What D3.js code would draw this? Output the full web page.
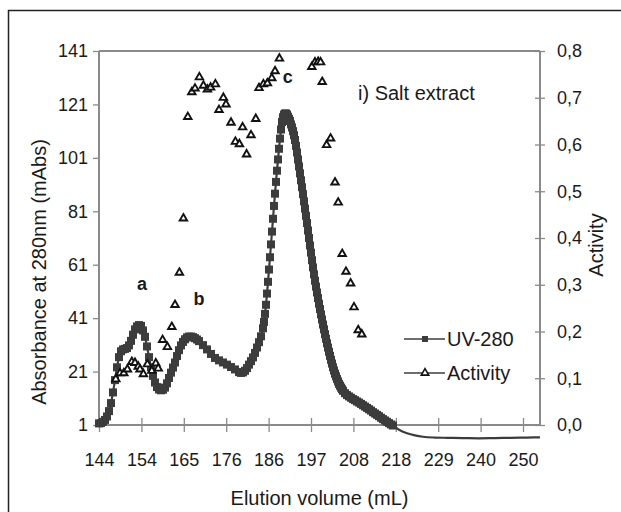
<!DOCTYPE html>
<html>
<head>
<meta charset="utf-8">
<script src="https://cdn.jsdelivr.net/npm/d3@7"></script>
<style>
  body { margin: 0; background: #fff; }
  text { font-family: "Liberation Sans", Arial, sans-serif; fill: #1a1a1a; }
</style>
</head>
<body>
<svg id="chart" width="621" height="512"></svg>
<script>
// UV-280 trace (elution volume in mL, absorbance in mAbs)
const uvVolume = [
  144, 144.5, 145, 145.5, 146, 146.5, 147, 147.5, 148, 148.5, 149, 149.5, 150, 150.5, 151, 151.5,
  152, 152.5, 153, 153.5, 154, 154.5, 155, 155.5, 156, 156.5, 157, 157.5, 158, 158.5, 159, 159.5,
  160, 160.5, 161, 161.5, 162, 162.5, 163, 163.5, 164, 164.5, 165, 165.5, 166, 166.5, 167, 167.5,
  168, 168.5, 169, 170, 171, 172, 173, 174, 175, 176, 177, 178, 179, 179.5, 180, 180.5,
  181, 181.5, 182, 182.5, 183, 183.5, 184, 184.5, 185, 185.25, 185.5, 185.75, 186, 186.25, 186.5, 186.75,
  187, 187.25, 187.5, 187.75, 188, 188.25, 188.5, 188.75, 189, 189.25, 189.5, 189.75, 190, 190.25, 190.5, 190.75,
  191, 191.25, 191.5, 191.75, 192, 192.25, 192.5, 192.75, 193, 193.25, 193.5, 193.75, 194, 194.25, 194.5, 194.75,
  195, 195.25, 195.5, 195.75, 196, 196.25, 196.5, 196.75, 197, 197.25, 197.5, 197.75, 198, 198.25, 198.5, 198.75,
  199, 199.25, 199.5, 199.75, 200, 200.25, 200.5, 200.75, 201, 201.25, 201.5, 201.75, 202, 202.25, 202.5, 202.75,
  203, 203.25, 203.5, 203.75, 204, 204.25, 204.5, 204.75, 205, 205.5, 206, 206.5, 207, 207.5, 208, 208.5,
  209, 209.5, 210, 210.5, 211, 211.5, 212, 212.5, 213, 213.5, 214, 214.5, 215, 215.5, 216, 216.5, 217, 217.5,
  219, 221, 223, 225, 228, 231, 235, 239, 243, 247, 251, 254.25
];
const uvAbs = [
  1.6, 1.7, 2.2, 2.9, 4.2, 6.2, 9.2, 13.2, 17.8, 22.6, 26.4, 28.6, 29.3, 29.5, 29.8, 30.8,
  32.5, 34.8, 36.8, 37.9, 38.4, 38.1, 36.4, 34.0, 30.4, 26.4, 22.6, 19.4, 16.9, 15.2, 14.3, 14.0,
  14.2, 15.0, 16.6, 18.6, 20.6, 22.5, 24.4, 26.8, 29.0, 30.8, 32.1, 33.1, 33.8, 34.1, 34.1, 33.9,
  33.5, 33.0, 32.4, 30.9, 29.3, 27.6, 26.1, 25.2, 24.4, 23.6, 22.7, 21.8, 20.8, 20.5, 20.7, 21.3,
  22.3, 23.6, 24.9, 26.3, 28.0, 30.0, 32.0, 34.2, 37.2, 39.6, 42.6, 46.0, 50.2, 54.6, 59.2, 63.8,
  68.6, 73.4, 78.2, 83.0, 87.6, 92.0, 96.2, 100.4, 104.4, 108.2, 111.6, 114.4, 116.2, 117.2, 117.6, 117.6,
  117.2, 116.4, 115.6, 114.8, 113.5, 112.4, 111.0, 109.5, 107.7, 105.5, 103.0, 100.4, 97.8, 95.2, 92.6, 90.0,
  87.4, 84.7, 82.0, 79.3, 76.6, 73.8, 71.0, 68.2, 65.5, 62.7, 60.0, 57.4, 55.0, 52.8, 50.6, 48.5,
  46.4, 44.4, 42.4, 40.5, 38.6, 36.8, 35.0, 33.3, 31.6, 30.0, 28.4, 26.9, 25.4, 24.0, 22.6, 21.4,
  20.2, 19.2, 18.2, 17.3, 16.4, 15.7, 15.0, 14.4, 13.8, 12.9, 12.2, 11.7, 11.2, 10.7, 10.3, 9.8,
  9.4, 8.9, 8.4, 7.9, 7.4, 6.9, 6.4, 5.8, 5.3, 4.8, 4.3, 3.7, 3.2, 2.7, 2.2, 1.7, 1.2, 0.8,
  -0.8, -2.1, -2.9, -3.4, -3.7, -3.8, -3.9, -4.0, -3.9, -3.8, -3.7, -3.6
];
// markers are plotted up to this volume, the rest of the trace is a plain line
const uvMarkerEnd = 218;

// Activity measurements (elution volume in mL, activity)
const actVolume = [
  148.2, 149.25, 150.2, 151.1, 152.2, 153.0, 153.8, 154.25, 155.1, 156.1, 157.2, 158.2, 158.8,
  159.9, 161.1, 162.2, 163.0, 164.1, 165.1, 166.2, 167.2, 168.0, 169.1, 170.1, 171.1, 171.9,
  173.1, 174.0, 175.1, 175.75, 177.0, 178.1, 179.1, 179.9, 180.9, 182.0, 183.2, 184.0, 185.1,
  186.1, 187.2, 188.0, 189.1, 197.2, 198.0, 198.8, 199.4, 199.8, 200.9, 201.9, 203.0, 203.8,
  204.8, 205.75, 206.9, 207.75, 208.8, 209.7
];
const actValue = [
  0.098, 0.111, 0.111, 0.119, 0.135, 0.133, 0.125, 0.119, 0.109, 0.130, 0.116, 0.132, 0.121,
  0.182, 0.167, 0.210, 0.257, 0.326, 0.442, 0.659, 0.712, 0.720, 0.744, 0.726, 0.718, 0.722,
  0.729, 0.674, 0.700, 0.686, 0.647, 0.606, 0.601, 0.637, 0.579, 0.620, 0.655, 0.721, 0.729,
  0.731, 0.742, 0.757, 0.784, 0.766, 0.776, 0.777, 0.776, 0.734, 0.599, 0.613, 0.519, 0.476,
  0.366, 0.328, 0.303, 0.252, 0.203, 0.194
];

// Axes
const xTickLabels = ["144", "154", "165", "176", "186", "197", "208", "218", "229", "240", "250"];
const xTickStep = 10.6;
const xDomain = [144, 254.25];
const yLeftTicks = [1, 21, 41, 61, 81, 101, 121, 141];
const yRightTicks = [0, 0.1, 0.2, 0.3, 0.4, 0.5, 0.6, 0.7, 0.8];

// Peak labels
const peakNames = ["a", "b", "c"];
const peakVolume = [154.75, 169.0, 191.2];
const peakAbs = [51.5, 46, 129];

const seriesNames = ["UV-280", "Activity"];

const svg = d3.select('#chart');
const plot = { left: 99, right: 540, top: 51, bottom: 425 };
const axisColor = '#8a8a8a';
const ink = '#3c3c3c';

// frame around the whole figure
svg.append('rect')
  .attr('x', 8.5).attr('y', 10.5)
  .attr('width', 700).attr('height', 600)
  .attr('fill', 'none')
  .attr('stroke', '#222')
  .attr('stroke-width', 1.5);

const x = d3.scaleLinear().domain(xDomain).range([plot.left, plot.right]);
const yL = d3.scaleLinear().domain([1, 141]).range([plot.bottom, plot.top]);
const yR = d3.scaleLinear().domain([0, 0.8]).range([plot.bottom, plot.top]);

// top border of plot area
svg.append('line')
  .attr('x1', plot.left).attr('x2', plot.right)
  .attr('y1', plot.top).attr('y2', plot.top)
  .attr('stroke', axisColor).attr('stroke-width', 2);

// left axis
const gLeft = svg.append('g')
  .attr('transform', `translate(${plot.left},0)`)
  .call(d3.axisLeft(yL).tickValues(yLeftTicks).tickSize(6).tickPadding(5));

// right axis
const commaFmt = d => d3.format('.1f')(d).replace('.', ',');
const gRight = svg.append('g')
  .attr('transform', `translate(${plot.right},0)`)
  .call(d3.axisRight(yR).tickValues(yRightTicks).tickSize(5).tickPadding(12).tickFormat(commaFmt));
gRight.selectAll('.tick line').attr('x1', -5);

// bottom axis
const xTickValues = xTickLabels.map((_, i) => xDomain[0] + i * xTickStep);
const gBottom = svg.append('g')
  .attr('transform', `translate(0,${plot.bottom})`)
  .call(d3.axisBottom(x).tickValues(xTickValues).tickSize(7).tickPadding(21)
    .tickFormat((d, i) => xTickLabels[i]));
gBottom.selectAll('.tick line').attr('y1', -7);

[gLeft, gRight, gBottom].forEach(g => {
  g.select('.domain').attr('stroke', axisColor).attr('stroke-width', 2);
  g.selectAll('.tick line').attr('stroke', axisColor).attr('stroke-width', 1.3);
  g.selectAll('.tick text').attr('font-size', 18).attr('fill', '#1a1a1a')
    .style('font-family', '"Liberation Sans", Arial, sans-serif');
});
gBottom.select('.domain').attr('d', `M${plot.left},0H${plot.right}`);
gLeft.select('.domain').attr('d', `M0,${plot.bottom}V${plot.top}`);
gRight.select('.domain').attr('d', `M0,${plot.bottom}V${plot.top}`);

// axis titles
svg.append('text')
  .attr('transform', 'translate(46,272) rotate(-90)')
  .attr('text-anchor', 'middle')
  .attr('font-size', 20)
  .text('Absorbance at 280nm (mAbs)');

svg.append('text')
  .attr('transform', 'translate(603,245) rotate(-90)')
  .attr('text-anchor', 'middle')
  .attr('font-size', 20)
  .text('Activity');

svg.append('text')
  .attr('x', (plot.left + plot.right) / 2)
  .attr('y', 505)
  .attr('text-anchor', 'middle')
  .attr('font-size', 20)
  .text('Elution volume (mL)');

svg.append('text')
  .attr('x', 358)
  .attr('y', 100)
  .attr('font-size', 20)
  .text('i) Salt extract');

// UV-280 trace
const uvData = uvVolume.map((v, i) => ({ v, a: uvAbs[i] }));
const line = d3.line().x(d => x(d.v)).y(d => yL(d.a)).curve(d3.curveMonotoneX);

svg.append('path')
  .datum(uvData)
  .attr('d', line)
  .attr('fill', 'none')
  .attr('stroke', ink)
  .attr('stroke-width', 2.2);

const sq = 8;
svg.selectAll('rect.uv')
  .data(uvData.filter(d => d.v <= uvMarkerEnd))
  .enter()
  .append('rect')
    .attr('class', 'uv')
    .attr('x', d => x(d.v) - sq / 2)
    .attr('y', d => yL(d.a) - sq / 2)
    .attr('width', sq).attr('height', sq)
    .attr('fill', ink);

// Activity markers
const tri = d3.symbol().type(d3.symbolTriangle).size(24);
const actData = actVolume.map((v, i) => ({ v, a: actValue[i] }));
svg.selectAll('path.act')
  .data(actData)
  .enter()
  .append('path')
    .attr('class', 'act')
    .attr('d', tri)
    .attr('transform', d => `translate(${x(d.v)},${yR(d.a)})`)
    .attr('fill', '#fff')
    .attr('stroke', '#111')
    .attr('stroke-width', 1.9);

// peak labels
svg.selectAll('text.peak')
  .data(peakNames)
  .enter()
  .append('text')
    .attr('class', 'peak')
    .attr('x', (d, i) => x(peakVolume[i]))
    .attr('y', (d, i) => yL(peakAbs[i]))
    .attr('text-anchor', 'middle')
    .attr('font-size', 18)
    .attr('font-weight', 'bold')
    .text(d => d);

// legend
const legend = svg.append('g').attr('transform', 'translate(404,339)');
seriesNames.forEach((name, i) => {
  const row = legend.append('g').attr('transform', `translate(0,${i * 34})`);
  row.append('line')
    .attr('x1', 0).attr('x2', 41)
    .attr('stroke', ink).attr('stroke-width', 1.6);
  if (i === 0) {
    row.append('rect')
      .attr('x', 18).attr('y', -3).attr('width', 6).attr('height', 6)
      .attr('fill', ink);
  } else {
    row.append('path')
      .attr('d', tri)
      .attr('transform', 'translate(21,0)')
      .attr('fill', '#fff').attr('stroke', '#111').attr('stroke-width', 1.6);
  }
  row.append('text')
    .attr('x', 43)
    .attr('y', 7)
    .attr('font-size', 20)
    .text(name);
});
</script>
</body>
</html>
